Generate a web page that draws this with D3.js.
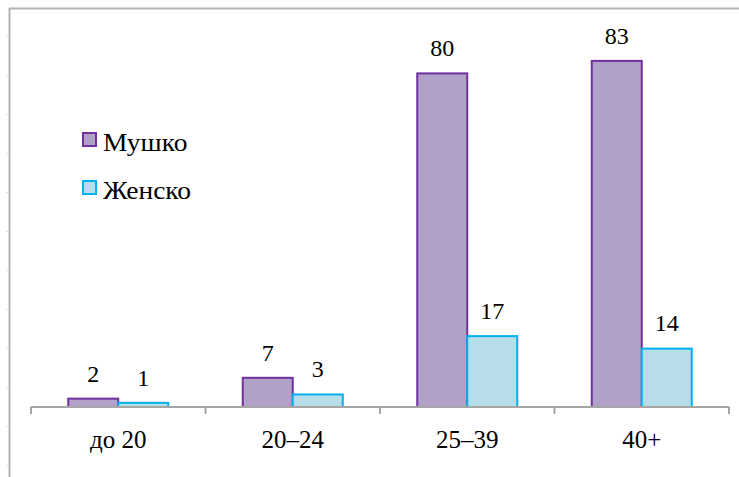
<!DOCTYPE html>
<meta charset="utf-8">
<style>
    body { margin: 0; background: #fff; }
    #chart { position: relative; width: 739px; height: 477px; }
    #chart svg { position: absolute; left: 0; top: 0; }
    .lbl {
        position: absolute;
        font-family: "Liberation Serif", "Times New Roman", serif;
        color: #000;
        line-height: 1;
        white-space: nowrap;
    }
</style>
<body>
    <div id="chart">
        <svg width="739" height="477"></svg>
    </div>
</body>
<script src="https://cdnjs.cloudflare.com/ajax/libs/d3/7.8.5/d3.min.js"></script>
<script>

    // data
    var categories = ["до 20", "20–24", "25–39", "40+"];
    var seriesNames = ["Мушко", "Женско"];
    var male = [2, 7, 80, 83];
    var female = [1, 3, 17, 14];

    var fills = ["#b2a1c7", "#b7dee8"];
    var strokes = ["#7030a0", "#00b0f0"];

    var chart = d3.select("#chart");
    var svg = chart.select("svg"),
        width = +svg.attr("width"),
        height = +svg.attr("height");

    var baseY = 407;

    // scales
    var x0 = d3.scaleBand()
        .domain(categories)
        .range([31, 729]);

    var x1 = d3.scaleBand()
        .domain(seriesNames)
        .range([0, x0.bandwidth()])
        .paddingOuter(0.745);

    var y = d3.scaleLinear()
        .domain([0, 90])
        .range([baseY, baseY - 90 * 4.17]);

    // html text placed by its baseline (liberation serif ascent ~0.84 of size with line-height 1)
    function addLabel(txt, x, baseline, size, anchor, stretch) {
        var top = baseline - size * 0.84;
        var tf = (anchor == "middle" ? "translateX(-50%) " : "") + (stretch ? "scaleX(" + stretch + ")" : "");
        return chart.append("div")
            .attr("class", "lbl")
            .style("left", x + "px")
            .style("top", top + "px")
            .style("font-size", size + "px")
            .style("transform", tf)
            .style("transform-origin", "0 0")
            .text(txt);
    }

    // outer frame (left and top edges)
    svg.append("line")
        .attr("x1", 9.5).attr("x2", 9.5)
        .attr("y1", 8).attr("y2", height)
        .style("stroke", "#b4b4b4").style("stroke-width", 2);
    svg.append("line")
        .attr("x1", 9).attr("x2", width)
        .attr("y1", 8.5).attr("y2", 8.5)
        .style("stroke", "#b4b4b4").style("stroke-width", 2);

    // faint tick marks on the frame
    svg.append("g").selectAll("line")
        .data(d3.range(36, height, 39))
        .enter()
        .append("line")
        .attr("x1", 6).attr("x2", 9)
        .attr("y1", d => d + 0.5).attr("y2", d => d + 0.5)
        .style("stroke", "#e4e4e4");

    // bars
    var rows = categories.map(function(c, i) {
        return { cat: c, values: [male[i], female[i]] };
    });

    var groups = svg.append("g")
        .selectAll("g")
        .data(rows)
        .enter()
        .append("g")
        .attr("transform", d => "translate(" + x0(d.cat) + ",0)");

    groups.selectAll("rect")
        .data(d => d.values.map((v, j) => ({ name: seriesNames[j], value: v, j: j })))
        .enter()
        .append("rect")
        .attr("x", d => x1(d.name))
        .attr("y", d => y(d.value))
        .attr("width", x1.bandwidth())
        .attr("height", d => baseY - y(d.value))
        .style("fill", d => fills[d.j])
        .style("stroke", d => strokes[d.j])
        .style("stroke-width", 2);

    // value labels
    rows.forEach(function(r) {
        r.values.forEach(function(v, j) {
            var cx = x0(r.cat) + x1(seriesNames[j]) + x1.bandwidth() / 2;
            addLabel(v, cx, y(v) - 17, 24, "middle");
        });
    });

    // x axis
    var xAxis = svg.append("g")
        .attr("transform", "translate(0," + baseY + ")");

    xAxis.append("line")
        .attr("x1", x0.range()[0]).attr("x2", x0.range()[1])
        .attr("y1", 0).attr("y2", 0)
        .style("stroke", "#a6a6a6").style("stroke-width", 2);

    xAxis.selectAll("line.tick")
        .data(categories.map(c => x0(c)).concat([x0.range()[1]]))
        .enter()
        .append("line")
        .attr("class", "tick")
        .attr("x1", d => d).attr("x2", d => d)
        .attr("y1", 0).attr("y2", 7)
        .style("stroke", "#a6a6a6").style("stroke-width", 2);

    categories.forEach(function(c) {
        addLabel(c, x0(c) + x0.bandwidth() / 2, baseY + 41, 25, "middle");
    });

    // legend
    var legend = svg.append("g")
        .selectAll("g")
        .data(seriesNames)
        .enter()
        .append("g")
        .attr("transform", (d, i) => "translate(83," + (133 + i * 48) + ")");

    legend.append("rect")
        .attr("width", 13).attr("height", 13)
        .style("fill", (d, i) => fills[i])
        .style("stroke", (d, i) => strokes[i])
        .style("stroke-width", 2);

    seriesNames.forEach(function(s, i) {
        addLabel(s, 103, 151 + i * 48, 25, "start", 1.1);
    });

</script>
